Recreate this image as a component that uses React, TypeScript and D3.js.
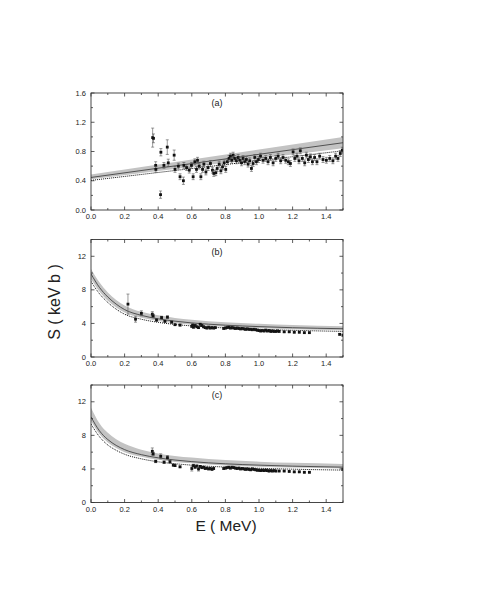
import React from "react";
import * as d3 from "d3";

// ---------- data ----------
const xTicks = [0, 0.2, 0.4, 0.6, 0.8, 1.0, 1.2, 1.4];
const yTicksA = [0, 0.4, 0.8, 1.2, 1.6];
const yTicksBC = [0, 4, 8, 12];

// panel (a): straight lines, end points at E = 0 and 1.5
const lineEA = [0, 1.5];
const solidA = [0.445, 0.92];
const bandTopA = [0.485, 1.0];
const bandBotA = [0.42, 0.845];
const dottedA = [0.405, 0.81];

// panels (b),(c): curve sample points
const curveE = [0, 0.05, 0.1, 0.15, 0.2, 0.3, 0.4, 0.5, 0.6, 0.8, 1.0, 1.2, 1.5];
const solidB = [9.9, 8.3, 7.15, 6.3, 5.65, 4.96, 4.55, 4.27, 4.06, 3.79, 3.62, 3.49, 3.37];
const bandTopB = [10.5, 8.9, 7.7, 6.8, 6.15, 5.38, 4.96, 4.66, 4.45, 4.15, 3.95, 3.8, 3.65];
const bandBotB = [9.3, 7.8, 6.7, 5.9, 5.3, 4.67, 4.29, 4.03, 3.85, 3.6, 3.43, 3.31, 3.18];
const dottedB = [9.0, 7.55, 6.5, 5.7, 5.1, 4.5, 4.13, 3.88, 3.7, 3.46, 3.3, 3.18, 3.05];

const solidC = [10.2, 8.55, 7.5, 6.8, 6.3, 5.7, 5.32, 5.06, 4.87, 4.61, 4.45, 4.33, 4.21];
const bandTopC = [11.3, 9.45, 8.3, 7.55, 7.0, 6.3, 5.85, 5.55, 5.35, 5.05, 4.87, 4.73, 4.6];
const bandBotC = [9.75, 8.15, 7.15, 6.5, 6.0, 5.45, 5.08, 4.84, 4.67, 4.42, 4.27, 4.16, 4.04];
const dottedC = [9.35, 7.85, 6.85, 6.22, 5.75, 5.2, 4.85, 4.62, 4.45, 4.22, 4.08, 3.97, 3.86];

// data points [E, S, error]
const pointsA: [number, number, number][] = [
  [0.367, 0.99, 0.13], [0.372, 0.98, 0.06], [0.385, 0.61, 0.05], [0.386, 0.555, 0.04],
  [0.416, 0.79, 0.05], [0.414, 0.21, 0.05], [0.454, 0.86, 0.1], [0.434, 0.61, 0.04],
  [0.46, 0.645, 0.05], [0.495, 0.75, 0.07], [0.5, 0.555, 0.04], [0.52, 0.6, 0.04],
  [0.53, 0.455, 0.04], [0.55, 0.4, 0.05], [0.553, 0.61, 0.04], [0.569, 0.58, 0.04],
  [0.585, 0.545, 0.04], [0.598, 0.61, 0.04], [0.608, 0.455, 0.04], [0.618, 0.66, 0.04],
  [0.628, 0.555, 0.04], [0.634, 0.68, 0.04], [0.644, 0.6, 0.04], [0.654, 0.455, 0.04],
  [0.664, 0.555, 0.04], [0.672, 0.627, 0.04], [0.684, 0.52, 0.04], [0.697, 0.58, 0.04],
  [0.711, 0.636, 0.04], [0.723, 0.545, 0.04], [0.731, 0.5, 0.04], [0.743, 0.51, 0.04],
  [0.751, 0.568, 0.04], [0.763, 0.627, 0.04], [0.773, 0.536, 0.04], [0.783, 0.59, 0.04],
  [0.793, 0.645, 0.04], [0.802, 0.555, 0.04], [0.812, 0.66, 0.04], [0.822, 0.705, 0.04],
  [0.83, 0.736, 0.04], [0.838, 0.68, 0.04], [0.846, 0.75, 0.04], [0.856, 0.705, 0.04],
  [0.866, 0.673, 0.04], [0.876, 0.718, 0.04], [0.886, 0.68, 0.04], [0.896, 0.645, 0.04],
  [0.905, 0.705, 0.04], [0.915, 0.66, 0.04], [0.925, 0.69, 0.04], [0.935, 0.627, 0.04],
  [0.945, 0.673, 0.04], [0.955, 0.568, 0.04], [0.965, 0.636, 0.04], [0.975, 0.718, 0.04],
  [0.985, 0.66, 0.04], [0.997, 0.69, 0.04], [1.009, 0.736, 0.04], [1.024, 0.68, 0.04],
  [1.04, 0.705, 0.04], [1.054, 0.66, 0.04], [1.068, 0.718, 0.04], [1.084, 0.645, 0.04],
  [1.1, 0.705, 0.04], [1.114, 0.736, 0.04], [1.129, 0.673, 0.04], [1.143, 0.718, 0.04],
  [1.159, 0.68, 0.04], [1.175, 0.66, 0.04], [1.187, 0.636, 0.04], [1.203, 0.795, 0.04],
  [1.213, 0.705, 0.04], [1.226, 0.736, 0.04], [1.238, 0.673, 0.04], [1.246, 0.81, 0.04],
  [1.258, 0.705, 0.04], [1.272, 0.645, 0.04], [1.282, 0.75, 0.04], [1.294, 0.69, 0.04],
  [1.306, 0.727, 0.04], [1.318, 0.66, 0.04], [1.331, 0.718, 0.04], [1.345, 0.66, 0.04],
  [1.361, 0.736, 0.04], [1.381, 0.69, 0.04], [1.401, 0.68, 0.04], [1.421, 0.705, 0.04],
  [1.44, 0.673, 0.04], [1.456, 0.736, 0.04], [1.47, 0.705, 0.04], [1.484, 0.773, 0.04],
  [1.496, 0.818, 0.04],
];

const pointsB: [number, number, number][] = [
  [0.22, 6.3, 1.2], [0.265, 4.5, 0.35], [0.3, 5.2, 0.3], [0.365, 5.1, 0.3], [0.37, 4.9, 0.2],
  [0.39, 4.4, 0.15], [0.42, 4.7, 0.15], [0.44, 4.25, 0.1], [0.455, 4.75, 0.15], [0.48, 4.15, 0.1],
  [0.5, 3.85, 0.1], [0.53, 3.8, 0.1], [0.6, 3.65, 0.1], [0.605, 3.8, 0.1], [0.61, 3.55, 0.1],
  [0.62, 3.75, 0.1], [0.63, 3.6, 0.1], [0.64, 3.5, 0.1], [0.65, 3.9, 0.1], [0.66, 3.75, 0.1],
  [0.67, 3.6, 0.1], [0.68, 3.5, 0.1], [0.69, 3.45, 0.1], [0.7, 3.55, 0.1], [0.71, 3.45, 0.1],
  [0.72, 3.5, 0.1], [0.73, 3.45, 0.1], [0.74, 3.5, 0.1],
  [0.79, 3.4, 0.1], [0.8, 3.45, 0.1], [0.81, 3.5, 0.1], [0.82, 3.55, 0.1], [0.83, 3.45, 0.1],
  [0.84, 3.5, 0.1], [0.85, 3.45, 0.1], [0.86, 3.4, 0.1], [0.87, 3.45, 0.1], [0.88, 3.4, 0.1],
  [0.89, 3.35, 0.1], [0.9, 3.4, 0.1], [0.91, 3.35, 0.1], [0.92, 3.3, 0.1], [0.93, 3.35, 0.1],
  [0.94, 3.3, 0.1], [0.95, 3.3, 0.1], [0.96, 3.25, 0.1], [0.97, 3.3, 0.1], [0.98, 3.25, 0.1],
  [0.99, 3.2, 0.1], [1.0, 3.15, 0.1], [1.01, 3.1, 0.1], [1.02, 3.15, 0.1], [1.03, 3.1, 0.1],
  [1.04, 3.2, 0.1], [1.05, 3.1, 0.1], [1.06, 3.15, 0.1], [1.07, 3.05, 0.1], [1.08, 3.1, 0.1],
  [1.09, 3.05, 0.1], [1.1, 3.05, 0.1], [1.11, 3.1, 0.1], [1.12, 3.05, 0.1], [1.15, 3.0, 0.08],
  [1.18, 3.0, 0.08], [1.21, 2.95, 0.08], [1.24, 2.95, 0.08], [1.27, 2.9, 0.08], [1.3, 2.9, 0.08],
  [1.48, 2.7, 0.1], [1.5, 2.6, 0.1],
];

const pointsC: [number, number, number][] = [
  [0.365, 6.1, 0.4], [0.37, 5.8, 0.2], [0.385, 4.9, 0.15], [0.415, 5.5, 0.3], [0.435, 4.8, 0.15],
  [0.455, 5.35, 0.25], [0.47, 4.85, 0.15], [0.49, 4.45, 0.1], [0.5, 4.4, 0.1], [0.53, 4.25, 0.1],
  [0.6, 4.05, 0.3], [0.61, 4.4, 0.15], [0.62, 4.2, 0.1], [0.63, 4.35, 0.1], [0.64, 4.0, 0.25],
  [0.65, 4.3, 0.1], [0.66, 4.15, 0.1], [0.67, 4.2, 0.1], [0.68, 4.05, 0.1], [0.69, 4.1, 0.1],
  [0.7, 4.0, 0.1], [0.71, 4.05, 0.1], [0.72, 3.95, 0.1], [0.73, 4.05, 0.1],
  [0.79, 4.05, 0.1], [0.8, 4.1, 0.1], [0.81, 4.15, 0.1], [0.82, 4.2, 0.1], [0.83, 4.1, 0.1],
  [0.84, 4.2, 0.1], [0.85, 4.15, 0.1], [0.86, 4.1, 0.1], [0.87, 4.05, 0.1], [0.88, 4.1, 0.1],
  [0.89, 4.0, 0.1], [0.9, 4.05, 0.1], [0.91, 4.0, 0.1], [0.92, 3.95, 0.1], [0.93, 4.0, 0.1],
  [0.94, 3.95, 0.1], [0.95, 3.9, 0.1], [0.96, 4.0, 0.1], [0.97, 3.95, 0.1], [0.98, 3.9, 0.1],
  [0.99, 3.85, 0.1], [1.0, 3.85, 0.1], [1.01, 3.8, 0.1], [1.02, 3.85, 0.1], [1.03, 3.8, 0.1],
  [1.04, 3.85, 0.1], [1.05, 3.8, 0.1], [1.06, 3.75, 0.1], [1.07, 3.8, 0.1], [1.08, 3.75, 0.1],
  [1.09, 3.8, 0.1], [1.1, 3.75, 0.1], [1.12, 3.75, 0.08], [1.15, 3.75, 0.08], [1.18, 3.7, 0.08],
  [1.21, 3.65, 0.08], [1.24, 3.65, 0.08], [1.27, 3.6, 0.08], [1.3, 3.6, 0.08], [1.5, 3.95, 0.1],
];

// ---------- panel ----------
type PanelProps = {
  top: number;
  bottom: number;
  yMax: number;
  yTicks: number[];
  yMinorStep: number;
  yFmt: (v: number) => string;
  label: string;
  labelY: number;
  xs: number[];
  solid: number[];
  bandTop: number[];
  bandBot: number[];
  dotted: number[];
  points: [number, number, number][];
};

const LEFT = 91;
const RIGHT = 343;
const FONT = "Liberation Sans, Arial, sans-serif";

function Panel(p: PanelProps) {
  const x = d3.scaleLinear().domain([0, 1.5]).range([LEFT, RIGHT]);
  const y = d3.scaleLinear().domain([0, p.yMax]).range([p.bottom, p.top]);
  const idx = p.xs.map((_, i) => i);
  const curve = p.xs.length > 2 ? d3.curveMonotoneX : d3.curveLinear;
  const area = d3
    .area<number>()
    .x((i) => x(p.xs[i]))
    .y0((i) => y(p.bandBot[i]))
    .y1((i) => y(p.bandTop[i]))
    .curve(curve);
  const lineOf = (arr: number[]) =>
    d3
      .line<number>()
      .x((i) => x(p.xs[i]))
      .y((i) => y(arr[i]))
      .curve(curve)(idx) || "";

  const xMinor = d3.range(0, 1.5001, 0.1);
  const yMinor = d3.range(0, p.yMax + 1e-6, p.yMinorStep);
  const clipId = "clip" + p.label.replace(/[()]/g, "");

  return (
    <g>
      <defs>
        <clipPath id={clipId}>
          <rect x={LEFT} y={p.top} width={RIGHT - LEFT} height={p.bottom - p.top} />
        </clipPath>
      </defs>
      <g clipPath={`url(#${clipId})`}>
        <path d={area(idx) || ""} fill="#c3c3c3" stroke="none" />
        <path d={lineOf(p.solid)} fill="none" stroke="#333" strokeWidth={0.8} />
        <path d={lineOf(p.dotted)} fill="none" stroke="#111" strokeWidth={1} strokeDasharray="1,1" />
        {p.points.map(([e, s, err], i) => (
          <g key={i}>
            <line x1={x(e)} x2={x(e)} y1={y(s - err)} y2={y(s + err)} stroke="#555" strokeWidth={0.6} />
            <line x1={x(e) - 1.5} x2={x(e) + 1.5} y1={y(s - err)} y2={y(s - err)} stroke="#555" strokeWidth={0.6} />
            <line x1={x(e) - 1.5} x2={x(e) + 1.5} y1={y(s + err)} y2={y(s + err)} stroke="#555" strokeWidth={0.6} />
            <rect x={x(e) - 1.4} y={y(s) - 1.4} width={2.8} height={2.8} fill="#111" />
          </g>
        ))}
      </g>
      <rect x={LEFT} y={p.top} width={RIGHT - LEFT} height={p.bottom - p.top} fill="none" stroke="#333" strokeWidth={0.9} />
      {xMinor.map((v, i) => {
        const len = i % 2 === 0 ? 3.5 : 2;
        return (
          <g key={"xt" + i}>
            <line x1={x(v)} x2={x(v)} y1={p.bottom} y2={p.bottom - len} stroke="#333" strokeWidth={0.8} />
            <line x1={x(v)} x2={x(v)} y1={p.top} y2={p.top + len} stroke="#333" strokeWidth={0.8} />
          </g>
        );
      })}
      {yMinor.map((v, i) => {
        const len = i % 2 === 0 ? 3.5 : 2;
        return (
          <g key={"yt" + i}>
            <line x1={LEFT} x2={LEFT + len} y1={y(v)} y2={y(v)} stroke="#333" strokeWidth={0.8} />
            <line x1={RIGHT} x2={RIGHT - len} y1={y(v)} y2={y(v)} stroke="#333" strokeWidth={0.8} />
          </g>
        );
      })}
      {xTicks.map((v) => (
        <text key={"xl" + v} x={x(v)} y={p.bottom + 9} fontSize={7.5} fontFamily={FONT} textAnchor="middle" fill="#222">
          {v.toFixed(1)}
        </text>
      ))}
      {p.yTicks.map((v) => (
        <text key={"yl" + v} x={LEFT - 5} y={y(v) + 2.5} fontSize={7.5} fontFamily={FONT} textAnchor="end" fill="#222">
          {p.yFmt(v)}
        </text>
      ))}
      <text x={x(0.75)} y={y(p.labelY)} fontSize={9} fontFamily={FONT} textAnchor="middle" fill="#222">
        {p.label}
      </text>
    </g>
  );
}

export default function App() {
  return (
    <svg
      width={491}
      height={599}
      viewBox="0 0 491 599"
      style={{ position: "absolute", left: 0, top: 0, background: "#fff", display: "block" }}
    >
      <rect x={0} y={0} width={491} height={599} fill="#fff" />
      <Panel
        top={93}
        bottom={210}
        yMax={1.6}
        yTicks={yTicksA}
        yMinorStep={0.2}
        yFmt={(v) => v.toFixed(1)}
        label="(a)"
        labelY={1.42}
        xs={lineEA}
        solid={solidA}
        bandTop={bandTopA}
        bandBot={bandBotA}
        dotted={dottedA}
        points={pointsA}
      />
      <Panel
        top={239.5}
        bottom={357}
        yMax={14}
        yTicks={yTicksBC}
        yMinorStep={2}
        yFmt={(v) => String(v)}
        label="(b)"
        labelY={12.2}
        xs={curveE}
        solid={solidB}
        bandTop={bandTopB}
        bandBot={bandBotB}
        dotted={dottedB}
        points={pointsB}
      />
      <Panel
        top={385}
        bottom={502.5}
        yMax={14}
        yTicks={yTicksBC}
        yMinorStep={2}
        yFmt={(v) => String(v)}
        label="(c)"
        labelY={12.4}
        xs={curveE}
        solid={solidC}
        bandTop={bandTopC}
        bandBot={bandBotC}
        dotted={dottedC}
        points={pointsC}
      />
      <text transform="translate(59.5,302) rotate(-90)" fontSize={16} fontFamily={FONT} textAnchor="middle" fill="#222">
        S ( keV b )
      </text>
      <text x={226} y={531} fontSize={15.5} fontFamily={FONT} textAnchor="middle" fill="#222">
        E ( MeV)
      </text>
    </svg>
  );
}
